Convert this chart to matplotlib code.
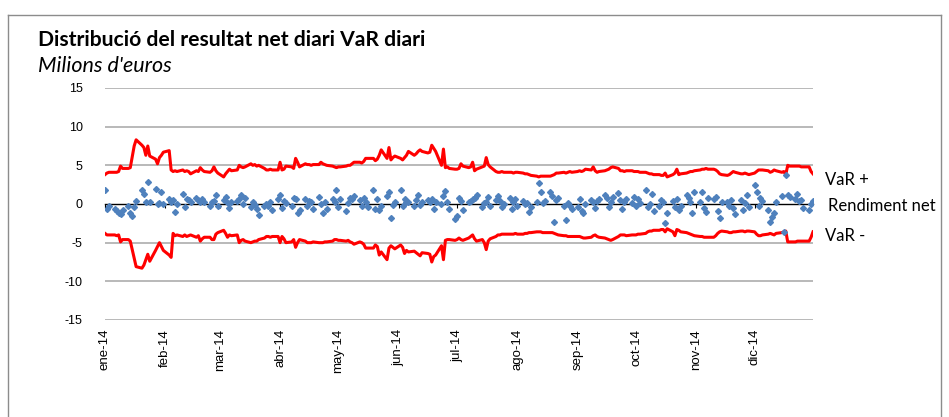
import matplotlib
matplotlib.use("Agg")
import matplotlib.pyplot as plt
from matplotlib.lines import Line2D
from matplotlib.transforms import blended_transform_factory
import pandas as pd
import datetime as dt

# business days of 2014, one value per day (rows = weeks)
dates = pd.bdate_range("2014-01-01", "2014-12-31")

var_plus = [
    3.8, 4.0, 4.1,
    4.1, 4.1, 4.2, 4.9, 4.6,
    4.6, 4.7, 6.1, 7.5, 8.3,
    7.6, 7.3, 6.3, 7.5, 6.2,
    5.8, 5.2, 6.0, 6.3, 6.7,
    6.9, 4.4, 4.2, 4.3, 4.2,
    4.4, 4.2, 4.3, 4.2, 3.9,
    4.3, 4.2, 4.7, 4.4, 4.2,
    4.1, 4.3, 4.8, 4.3, 4.0,
    3.5, 3.9, 4.2, 4.5, 4.3,
    4.4, 5.0, 4.8, 4.7, 4.8,
    5.2, 5.0, 5.1, 4.9, 5.0,
    4.6, 4.4, 4.4, 4.5, 4.4,
    4.4, 5.4, 4.4, 4.5, 4.9,
    4.8, 4.6, 5.9, 5.4, 4.8,
    5.2, 5.1, 5.1, 5.0, 5.1,
    5.1, 5.4, 5.2, 5.1, 5.0,
    4.9, 4.8, 4.7, 4.8, 4.8,
    4.9, 5.0, 5.0, 5.2, 5.4,
    5.4, 5.3, 5.5, 5.9, 5.9,
    5.9, 5.6, 5.8, 6.3, 7.0,
    5.9, 7.3, 5.7, 6.0, 6.2,
    5.9, 5.7, 6.0, 6.3, 6.8,
    6.3, 6.5, 6.8, 7.0, 6.8,
    6.6, 6.7, 7.6, 7.2, 6.8,
    5.0, 7.1, 4.7, 4.8, 4.6,
    4.5, 4.5, 4.6, 5.2, 4.9,
    4.7, 4.8, 5.4, 4.3, 4.5,
    4.8, 4.9, 6.0, 5.1, 4.8,
    4.2, 4.1, 4.1, 4.2, 4.1,
    4.1, 4.1, 4.0, 4.1, 4.1,
    4.0, 3.9, 3.9, 3.8, 3.7,
    3.6, 3.5, 3.6, 3.6, 3.6,
    3.6, 3.7, 3.8, 4.0, 4.0,
    4.1, 4.0, 4.1, 4.2, 4.1,
    4.2, 4.3, 4.2, 4.3, 4.5,
    4.4, 4.8, 4.3, 4.1, 4.2,
    4.3, 4.4, 4.5, 4.7, 4.8,
    4.6, 4.3, 4.3, 4.2, 4.3,
    4.3, 4.2, 4.2, 4.2, 4.1,
    4.1, 4.0, 3.9, 3.9, 3.8,
    3.8, 3.7, 3.7, 4.0, 3.5,
    3.8, 4.0, 4.5, 3.8, 3.9,
    4.0, 4.1, 4.2, 4.2, 4.3,
    4.4, 4.5, 4.5, 4.6, 4.5,
    4.5, 4.4, 4.2, 3.9, 3.8,
    3.7, 3.8, 4.0, 4.2, 4.1,
    3.9, 3.9, 4.0, 3.9, 3.8,
    4.0, 4.2, 4.4, 4.4, 4.4,
    4.3, 4.1, 4.2, 4.4, 4.3,
    4.1, 4.2, 3.8, 5.0, 4.9,
    4.9, 4.9, 4.9, 4.8, 4.8,
    4.8, 4.2, 3.9,
]

var_minus = [
    -3.8, -4.0, -4.0,
    -4.0, -4.1, -4.0, -4.9, -4.6,
    -4.6, -4.8, -5.9, -7.0, -8.1,
    -8.3, -7.9, -7.2, -6.5, -7.4,
    -6.0, -5.5, -5.0, -5.5, -6.0,
    -6.6, -6.9, -3.8, -4.1, -4.0,
    -4.2, -4.0, -4.2, -4.1, -4.0,
    -4.3, -4.1, -4.8, -4.5, -4.3,
    -4.3, -4.6, -4.6, -3.9, -3.7,
    -3.4, -3.8, -4.3, -4.0, -4.1,
    -4.0, -5.0, -4.7, -4.6, -4.8,
    -5.0, -4.9, -4.8, -4.8, -4.6,
    -4.4, -4.2, -4.2, -4.3, -4.2,
    -4.2, -5.0, -4.2, -4.5, -5.0,
    -4.9, -4.6, -5.6, -5.0, -4.6,
    -4.8, -5.0, -5.0, -5.0, -4.9,
    -5.0, -5.0, -5.0, -4.9, -4.9,
    -4.8, -4.6, -4.6, -4.7, -4.7,
    -4.8, -4.7, -4.9, -5.0, -5.2,
    -4.9, -5.0, -5.2, -5.7, -5.7,
    -5.7, -5.3, -5.5, -6.6, -6.2,
    -7.2, -5.7, -5.4, -5.6, -5.8,
    -5.3, -5.6, -6.4, -6.0, -6.2,
    -6.1, -6.3, -6.5, -6.7, -6.3,
    -6.4, -6.5, -7.5, -6.8, -6.6,
    -5.4, -7.2, -4.7, -4.6, -4.6,
    -4.7, -4.6, -4.4, -4.6, -4.7,
    -4.4, -4.2, -4.0, -4.5, -4.8,
    -4.6, -5.0, -5.9, -4.8, -4.5,
    -4.2, -4.0, -4.0, -3.9, -3.9,
    -3.9, -3.9, -3.9, -3.8, -3.9,
    -3.9, -3.8, -3.8, -3.7, -3.7,
    -3.6, -3.6, -3.6, -3.7, -3.7,
    -3.7, -3.7, -3.8, -3.9, -4.0,
    -4.1, -4.1, -4.2, -4.2, -4.2,
    -4.2, -4.2, -4.3, -4.4, -4.4,
    -4.3, -4.1, -4.0, -4.2, -4.3,
    -4.4, -4.5, -4.6, -4.7, -4.6,
    -4.2, -4.0, -4.0, -4.0, -4.1,
    -4.0, -4.0, -4.0, -3.9, -3.9,
    -3.8, -3.6, -3.5, -3.5, -3.4,
    -3.4, -3.3, -3.3, -3.6, -3.2,
    -3.6, -4.1, -3.3, -3.4, -3.6,
    -3.7, -3.8, -3.9, -4.0, -4.1,
    -4.2, -4.2, -4.3, -4.3, -4.3,
    -4.3, -4.1, -3.8, -3.6, -3.5,
    -3.6, -3.7, -3.7, -3.6, -3.6,
    -3.5, -3.5, -3.6, -3.5, -3.5,
    -3.6, -3.9, -4.1, -4.1, -4.0,
    -3.9, -3.8, -3.9, -4.0, -3.8,
    -3.7, -3.6, -3.5, -4.9, -4.9,
    -4.9, -4.8, -4.8, -4.8, -4.8,
    -4.8, -4.3, -3.6,
]

rendiment = [
    1.8, -0.6, -0.3,
    -0.7, -0.9, -1.1, -1.3, -0.8,
    -0.3, -1.1, -1.6, -0.4, 0.4,
    1.8, 1.3, 0.2, 2.9, 0.3,
    1.9, 0.0, 0.1, 1.6, 0.0,
    0.7, 0.3, 0.5, -1.0, 0.0,
    1.3, -0.4, 0.7, 0.5, 0.3,
    0.8, 0.5, 0.3, 0.7, 0.2,
    -0.2, 0.3, 0.4, 1.2, -0.3,
    0.5, 0.9, 0.1, -0.5, 0.2,
    0.4, 0.7, 1.2, 0.0, 0.8,
    -0.4, 0.3, -0.1, -0.6, -1.4,
    -0.2, 0.0, -0.3, 0.2, -0.8,
    0.6, 1.2, -0.5, 0.4, 0.1,
    -0.2, 0.8, 0.6, -1.2, -0.8,
    0.7, -0.2, 0.4, 0.2, -0.7,
    0.9, 0.0, -1.1, 0.3, -0.6,
    0.6, 0.2, 1.8, -0.4, 0.6,
    -0.9, 0.1, 0.8, 0.6, 1.0,
    0.5, -0.3, 0.8, 0.3, -0.4,
    1.8, -0.6, 0.6, -0.8, -0.2,
    1.0, 1.5, -1.8, -0.1, 0.3,
    1.8, -0.3, 0.7, 0.2, 0.2,
    -0.3, 0.5, 1.1, -0.1, 0.2,
    0.5, 0.2, 0.6, -0.7, 0.2,
    0.0, 1.0, 1.7, 0.3, -0.6,
    -2.0, -1.6, 0.8, 0.4, -0.8,
    0.3, 0.4, 0.6, 0.8, 1.1,
    -0.4, 0.1, 0.3, 0.9, -0.2,
    0.5, 1.0, 0.4, -0.4, 0.0,
    0.8, -0.7, 0.3, 0.6, -0.3,
    0.4, 0.0, 0.1, -1.0, -0.4,
    0.3, 2.7, 1.6, 0.1, 0.4,
    1.5, 1.0, -2.3, 0.5, 0.8,
    -0.2, -2.1, 0.1, -0.3, -0.7,
    -0.4, 0.6, -0.9, -1.2, 0.0,
    0.5, 0.3, -0.5, 0.4, 0.7,
    1.1, 0.8, -0.4, 0.3, 0.9,
    1.4, 0.5, -0.6, 0.3, 0.6,
    0.1, 0.9, -0.3, 0.6, 0.1,
    1.8, -0.4, 0.0, 1.3, -0.9,
    -0.2, 0.5, 0.2, -2.4, -1.1,
    0.4, -0.4, 0.6, -0.8, -0.3,
    1.1, 0.8, 0.3, -1.2, 1.6,
    0.2, 1.6, -0.5, -1.0, 0.8,
    0.6, 0.9, -0.9, -1.8, 0.3,
    0.2, -0.3, 0.5, -0.5, -1.3,
    0.5, -0.8, 0.1, 1.1, -0.4,
    2.5, 1.5, -0.2, 0.8, 0.4,
    -0.8, -2.3, -1.7, -1.2, 0.3,
    1.0, -3.6, 3.7, 1.1, 0.9,
    0.6, 1.3, 0.4, 0.5, -0.5,
    -0.8, 0.0, 0.4,
]

month_labels = ["ene-14", "feb-14", "mar-14", "abr-14", "may-14", "jun-14",
                "jul-14", "ago-14", "sep-14", "oct-14", "nov-14", "dic-14"]
month_starts = [dt.date(2014, m, 1) for m in range(1, 13)]
y_ticks = [-15, -10, -5, 0, 5, 10, 15]

title = "Distribució del resultat net diari VaR diari"
subtitle = "Milions d'euros"

fig = plt.figure(figsize=(9.49, 4.17), dpi=100)
ax = fig.add_axes([105 / 949, 1 - 320 / 417, 708 / 949, 232 / 417])

for y in y_ticks:
    if y != 0:
        ax.axhline(y, color="#a6a6a6", lw=1.1, zorder=0)

ax.plot(dates, var_plus, color="#ff0000", lw=2.2, zorder=3)
ax.plot(dates, var_minus, color="#ff0000", lw=2.2, zorder=3)
ax.plot(dates, rendiment, ls="none", marker="D", ms=3.0, color="#4f81bd",
        mec="#4f81bd", zorder=4)

ax.set_xlim(dt.date(2014, 1, 1), dt.date(2014, 12, 31))
ax.set_ylim(-15, 15)

for s in ["top", "right", "left"]:
    ax.spines[s].set_visible(False)
ax.spines["bottom"].set_position(("data", 0))
ax.spines["bottom"].set_color("black")
ax.spines["bottom"].set_linewidth(1.0)
ax.spines["bottom"].set_zorder(2)

ax.set_xticks(month_starts)
ax.set_xticklabels(month_labels, rotation=90, family="Liberation Sans",
                   fontsize=9.5, va="top", ha="center")
ax.tick_params(axis="x", direction="out", length=3, width=0.8, pad=87)

ax.set_yticks(y_ticks)
ax.set_yticklabels([str(v) for v in y_ticks], family="Liberation Sans", fontsize=9)
ax.tick_params(axis="y", length=0, pad=16)

tr = blended_transform_factory(ax.transAxes, ax.transData)
ax.text(1.017, 3.1, "VaR +", transform=tr, family="Lato", fontsize=12, va="center", ha="left")
ax.text(1.021, -0.3, "Rendiment net", transform=tr, family="Lato", fontsize=12, va="center", ha="left")
ax.text(1.017, -4.1, "VaR -", transform=tr, family="Lato", fontsize=12, va="center", ha="left")

fig.text(38 / 949, 1 - 46 / 417, title, family="Lato", fontweight="bold", fontsize=15.2,
         ha="left", va="baseline")
fig.text(38 / 949, 1 - 72 / 417, subtitle, family="Lato", style="italic", fontsize=15.5,
         ha="left", va="baseline")

# chart frame
x0, x1, yt = 8 / 949, 941 / 949, 1 - 15 / 417
for xs, ys in [([x0, x0], [yt, -0.1]), ([x0, x1], [yt, yt]), ([x1, x1], [yt, -0.1])]:
    fig.add_artist(Line2D(xs, ys, color="#8c8c8c", lw=1.0, transform=fig.transFigure))

fig.savefig("out.png", dpi=100)
